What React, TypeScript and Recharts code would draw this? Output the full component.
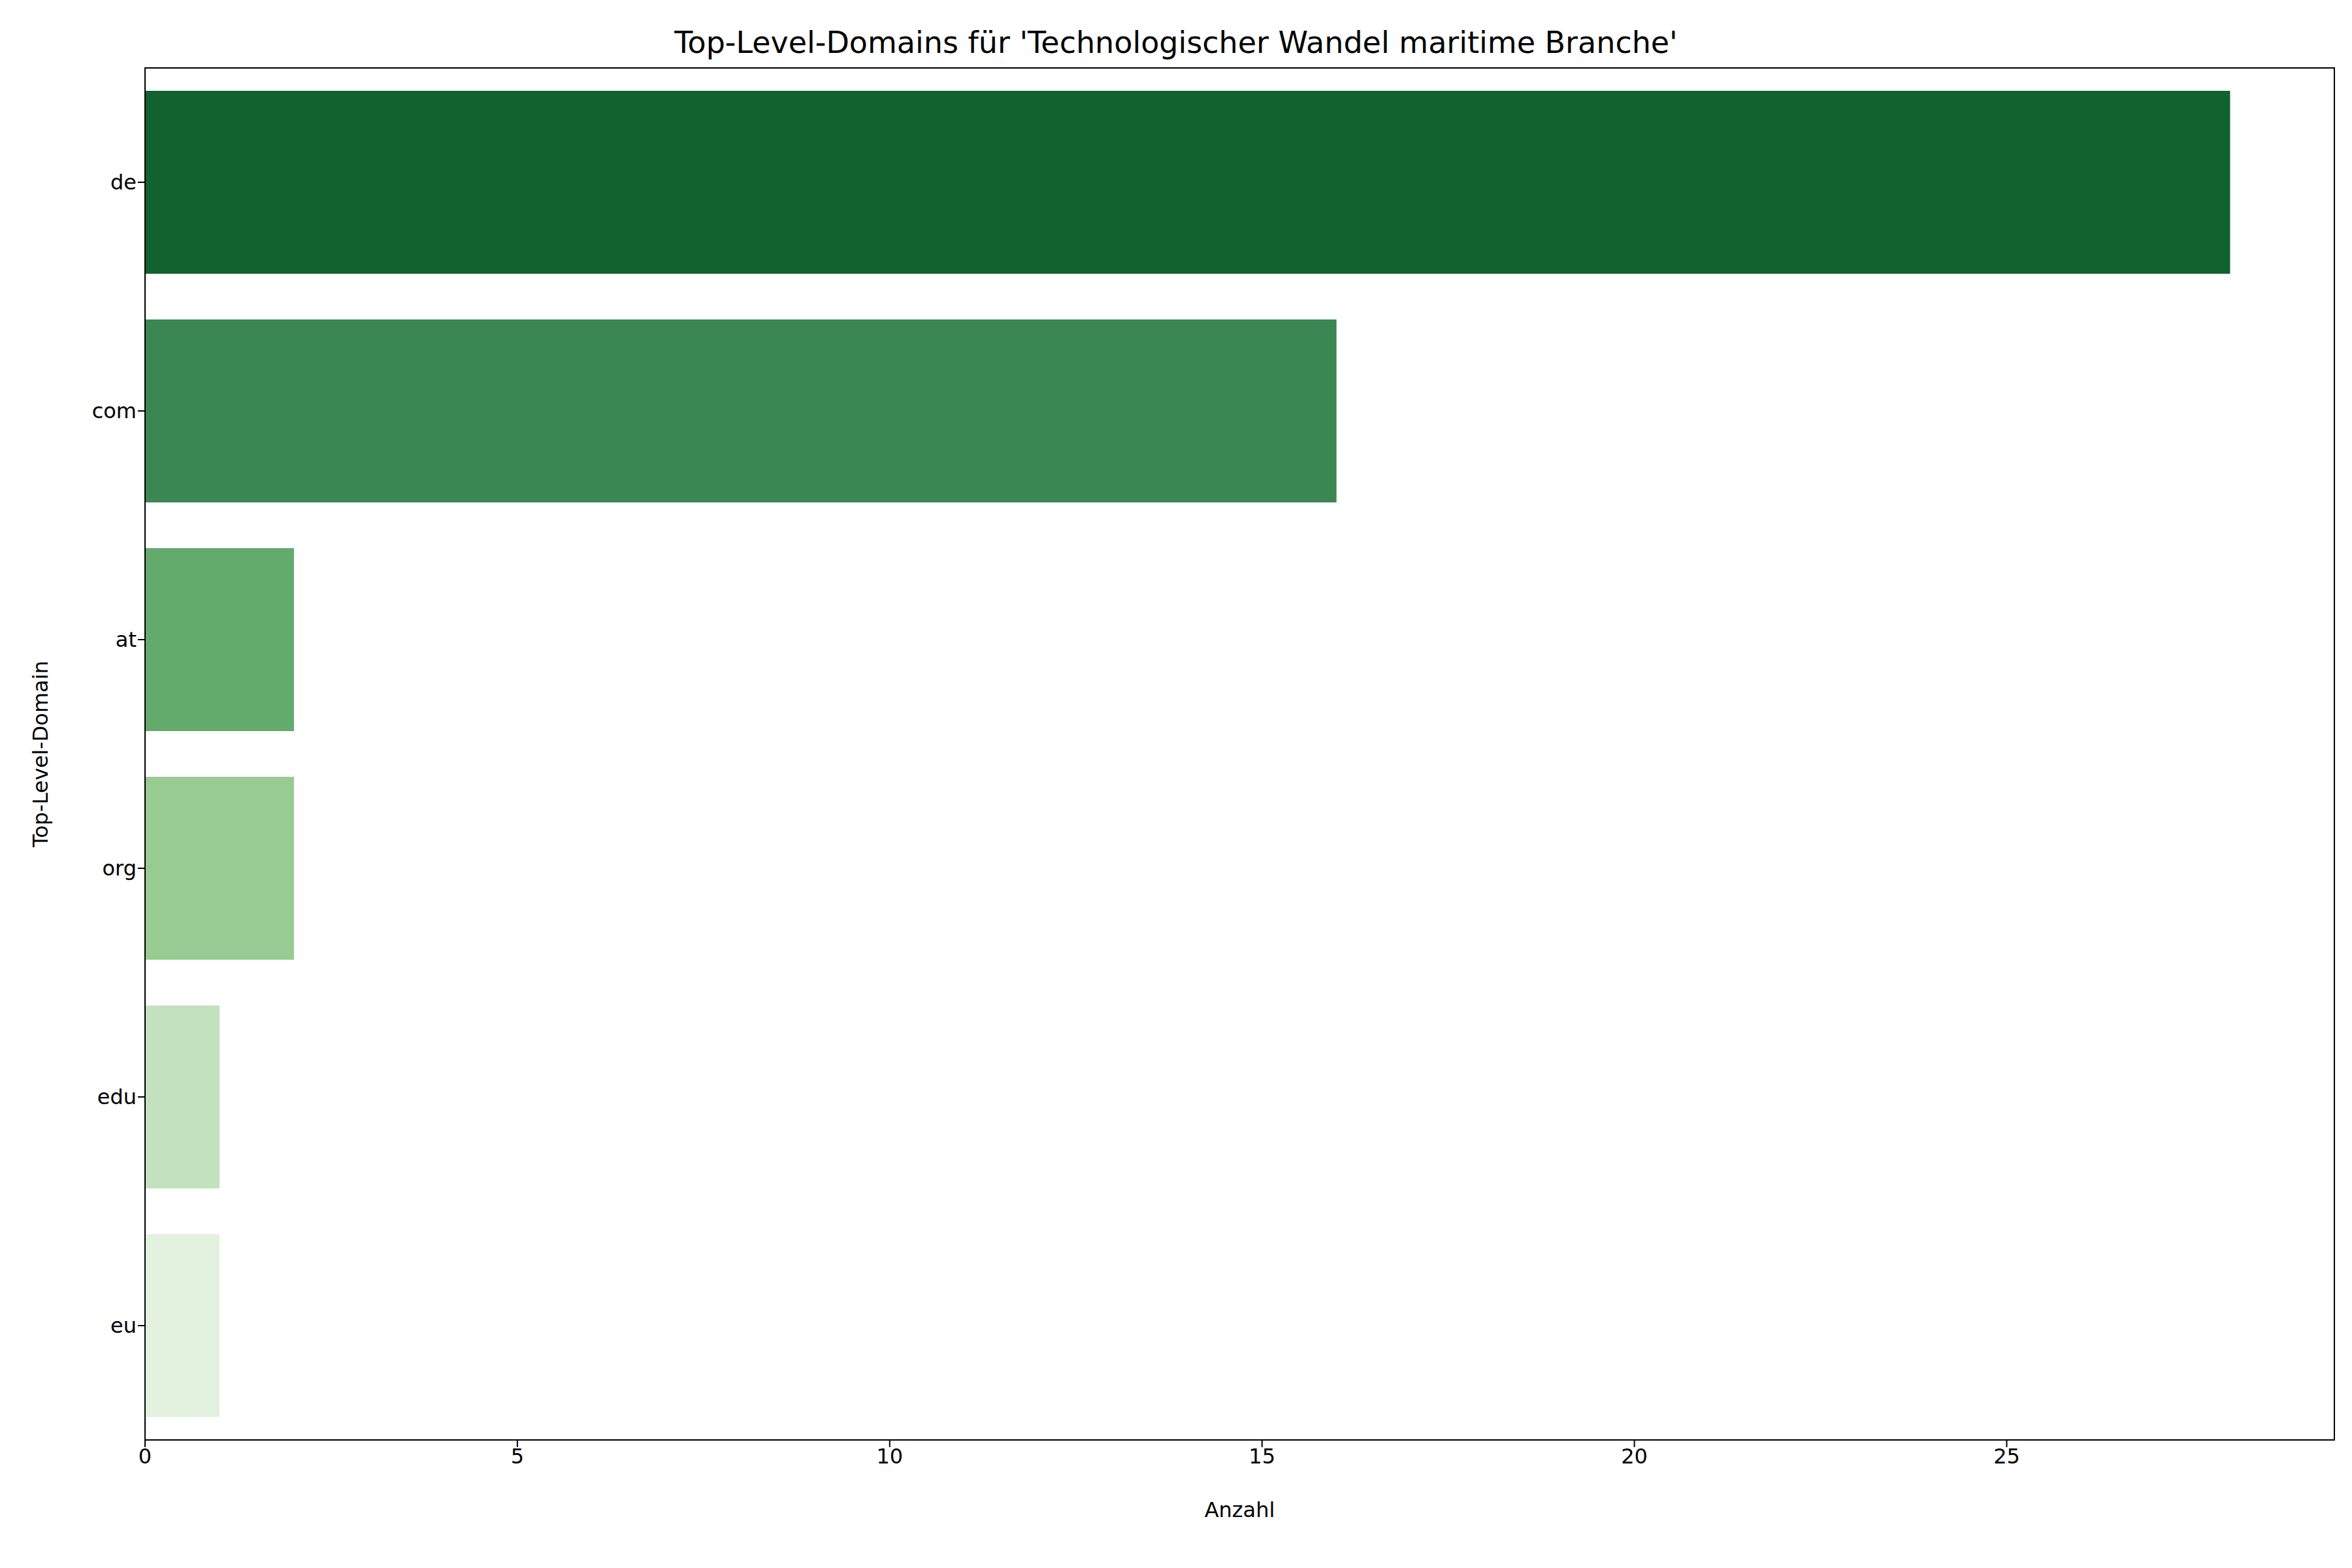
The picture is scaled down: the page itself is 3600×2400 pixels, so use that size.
import React from "react";
import { BarChart, Bar, XAxis, YAxis, Cell, ReferenceArea, Label } from "recharts";

const categories = ["de", "com", "at", "org", "edu", "eu"];
const counts = [28, 16, 2, 2, 1, 1];
const colors = ["#11622f", "#3a8753", "#63aa6d", "#98cb92", "#c3e1bf", "#e3f1df"];
const xTicks = [0, 5, 10, 15, 20, 25];

const data = categories.map((c, i) => ({ name: c, value: counts[i] }));
const font = "DejaVu Sans, sans-serif";

export default function App() {
  return (
    <div style={{ position: "absolute", left: 0, top: 0, width: 3600, height: 2400, background: "#fff", fontFamily: font }}>
      <div style={{ position: "absolute", top: 38, width: 3600, textAlign: "center", fontSize: 46, color: "#000" }}>
        Top-Level-Domains für 'Technologischer Wandel maritime Branche'
      </div>
      <BarChart
        width={3600}
        height={2400}
        data={data}
        layout="vertical"
        margin={{ top: 104, left: 102, right: 27, bottom: 166 }}
        barCategoryGap="10%"
      >
        <XAxis
          type="number"
          domain={[0, 29.4]}
          ticks={xTicks}
          allowDataOverflow
          stroke="#000"
          tick={{ fill: "#000", fontSize: 32, fontFamily: font }}
          tickSize={11}
          tickLine={{ stroke: "#000", strokeWidth: 2 }}
          axisLine={{ stroke: "#000", strokeWidth: 2 }}
        >
          <Label value="Anzahl" position="insideBottom" offset={-88} fill="#000" fontSize={32} fontFamily={font} />
        </XAxis>
        <YAxis
          type="category"
          dataKey="name"
          width={120}
          stroke="#000"
          tick={{ fill: "#000", fontSize: 32, fontFamily: font }}
          tickSize={11}
          tickLine={{ stroke: "#000", strokeWidth: 2 }}
          axisLine={{ stroke: "#000", strokeWidth: 2 }}
        >
          <Label value="Top-Level-Domain" angle={-90} position="insideLeft" offset={-40} fill="#000" fontSize={32} fontFamily={font} style={{ textAnchor: "middle" }} />
        </YAxis>
        <Bar dataKey="value" isAnimationActive={false}>
          {data.map((d, i) => (
            <Cell key={d.name} fill={colors[i]} />
          ))}
        </Bar>
        <ReferenceArea x1={0} x2={29.4} fill="none" stroke="#000" strokeWidth={2} ifOverflow="extendDomain" />
      </BarChart>
    </div>
  );
}
